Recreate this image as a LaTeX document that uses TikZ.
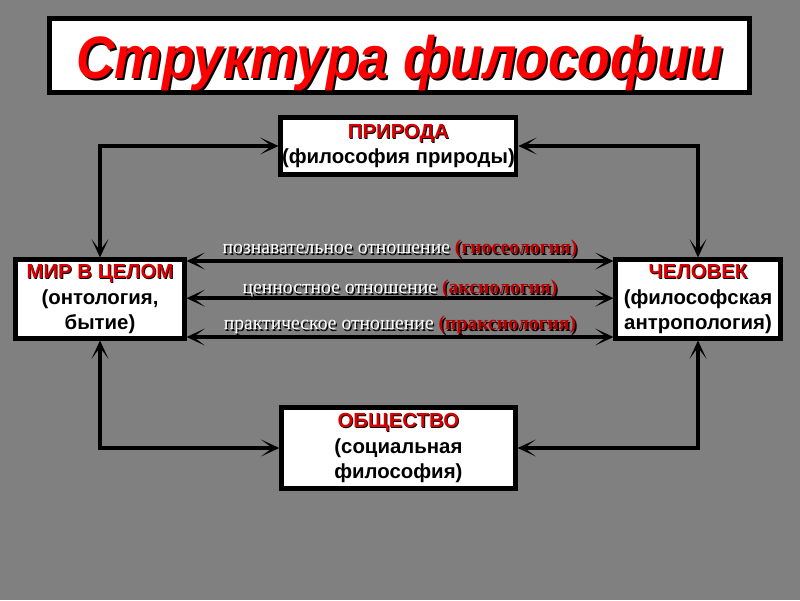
\documentclass[tikz,border=0pt]{standalone}
\usepackage{fontspec}
\setmainfont{Liberation Sans}
\newfontfamily\labelfont{Liberation Serif}
\usetikzlibrary{arrows.meta}

\definecolor{bggray}{HTML}{808080}
\definecolor{headred}{HTML}{D80000}
\definecolor{labelred}{HTML}{C00000}

% text with a dark drop shadow
\newcommand\txtshadow[3][0.05em]{\leavevmode\rlap{\hspace{#1}\raisebox{-#1}{\color{black}#3}}{\color{#2}#3}}

\tikzset{
  titlebox/.style={draw, line width=3.5pt, fill=white, minimum width=17.5cm, minimum height=1.85cm,
    font=\bfseries\itshape\fontsize{38}{44}\selectfont},
  box/.style={draw, line width=3pt, fill=white, align=center, inner sep=1pt,
    font=\bfseries\fontsize{14.5}{18}\selectfont},
  tip/.tip={Stealth[length=13pt,width=12pt,inset=8pt]},
  link/.style={line width=3.2pt, tip-tip},
  rel/.style={font=\labelfont\fontsize{14}{16}\selectfont, inner sep=1.5pt},
}

\begin{document}
\begin{tikzpicture}
	\fill[bggray] (0,0) rectangle (20,15);
	\useasboundingbox (0,0) rectangle (20,15);

	\node [titlebox] (title) at (9.99,13.61) {\raisebox{-6pt}[\height][\depth]{\scalebox{1}[1.12]{\txtshadow[0.04em]{red}{Структура философии}}}};

	\node [box, minimum width=5.85cm, minimum height=1.42cm] (priroda) at (9.96,11.35)
		{\txtshadow[0.04em]{headred}{ПРИРОДА}\\(философия природы)};
	\node [box, minimum width=4.22cm, minimum height=1.97cm] (mir) at (2.5,7.525)
		{\txtshadow[0.04em]{headred}{МИР В ЦЕЛОМ}\\(онтология,\\бытие)};
	\node [box, minimum width=4.12cm, minimum height=1.97cm] (chelovek) at (17.45,7.525)
		{\txtshadow[0.04em]{headred}{ЧЕЛОВЕК}\\(философская\\антропология)};
	\node [box, minimum width=5.85cm, minimum height=2.02cm] (obshchestvo) at (9.96,3.8)
		{\txtshadow[0.04em]{headred}{ОБЩЕСТВО}\\(социальная\\философия)};

	\draw [link] (priroda.west) -| (mir.north);
	\draw [link] (priroda.east) -| (chelovek.north);
	\draw [link] (obshchestvo.west) -| (mir.south);
	\draw [link] (obshchestvo.east) -| (chelovek.south);

	\draw [link] ([yshift=0.95cm]mir.east) -- ([yshift=0.95cm]chelovek.west)
		node [rel, midway, above, yshift=-2pt] (gnoseo) {\txtshadow[0.07em]{white}{познавательное отношение} \txtshadow[0.07em]{labelred}{\bfseries(гносеология)}};
	\draw [link] ([yshift=0.02cm]mir.east) -- ([yshift=0.02cm]chelovek.west)
		node [rel, midway, above, yshift=-4pt] (axio) {\txtshadow[0.07em]{white}{ценностное отношение} \txtshadow[0.07em]{labelred}{\bfseries(аксиология)}};
	\draw [link] ([yshift=-0.95cm]mir.east) -- ([yshift=-0.95cm]chelovek.west)
		node [rel, midway, above, yshift=-2pt] (praxeo) {\txtshadow[0.07em]{white}{практическое отношение} \txtshadow[0.07em]{labelred}{\bfseries(праксиология)}};
\end{tikzpicture}
\end{document}
